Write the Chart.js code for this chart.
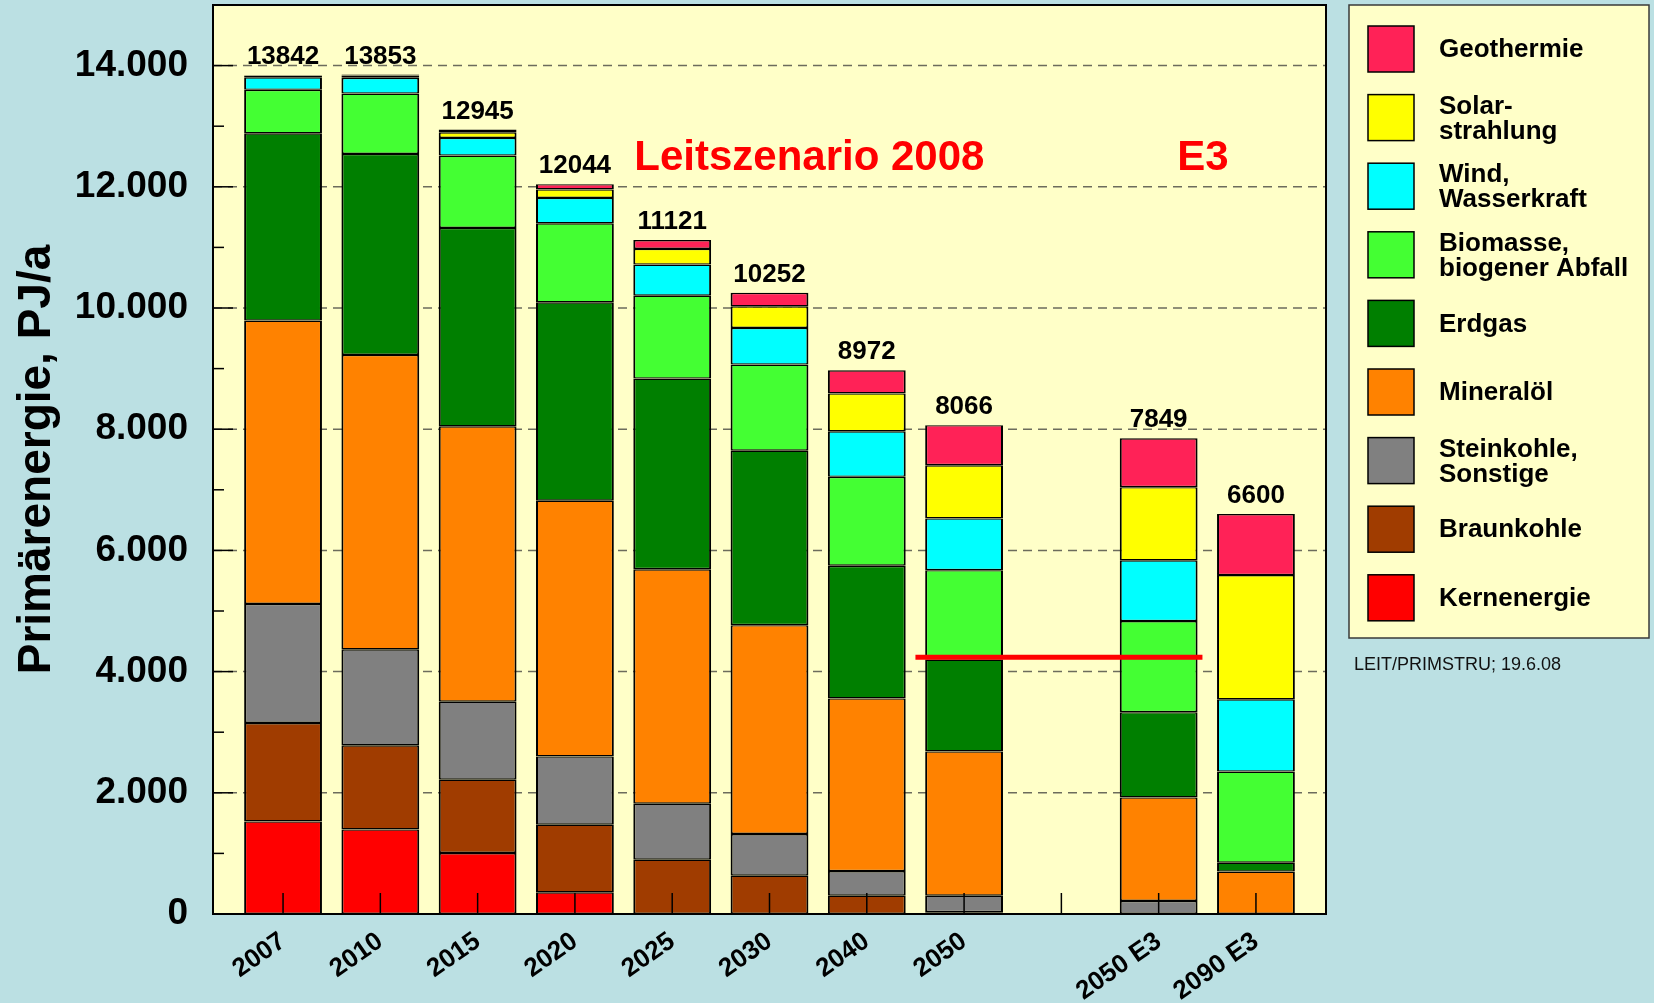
<!DOCTYPE html>
<html><head><meta charset="utf-8">
<script src="https://cdn.jsdelivr.net/npm/chart.js@4/dist/chart.umd.min.js"></script>
<style>html,body{margin:0;padding:0;background:#BBE0E3;}canvas{display:block}</style>
</head><body>
<canvas id="c" width="1654" height="1003"></canvas>
<script>
// ---- data ----
const categories = ['2007','2010','2015','2020','2025','2030','2040','2050','','2050 E3','2090 E3'];
const totals     = [13842,13853,12945,12044,11121,10252,8972,8066,null,7849,6600];
const kernenergie = [1528,1396,1007,357,0,0,0,0,null,0,0];
const braunkohle  = [1624,1387,1209,1117,896,632,302,30,null,0,0];
const steinkohle  = [1964,1584,1288,1127,924,688,406,272,null,215,0];
const mineraloel  = [4676,4859,4543,4220,3869,3446,2850,2380,null,1708,700];
const erdgas      = [3091,3317,3275,3273,3146,2880,2189,1518,null,1407,147];
const biomasse    = [717,995,1193,1304,1369,1420,1467,1474,null,1504,1503];
const wind        = [207,260,292,419,512,605,751,854,null,1002,1193];
const solar       = [25,40,93,140,259,357,626,877,null,1208,2050];
const geothermie  = [10,15,45,87,146,224,381,661,null,805,1007];
const yTickValues = [0,2000,4000,6000,8000,10000,12000,14000];
const yTickLabels = ['0','2.000','4.000','6.000','8.000','10.000','12.000','14.000'];
const markerLevel = 4235;
const markerFrom = 6.5, markerTo = 9.45;

const seriesNames = ['Kernenergie','Braunkohle','Steinkohle, Sonstige','Mineralöl','Erdgas','Biomasse, biogener Abfall','Wind, Wasserkraft','Solarstrahlung','Geothermie'];
const legendLines = [['Kernenergie'],['Braunkohle'],['Steinkohle,','Sonstige'],['Mineralöl'],['Erdgas'],['Biomasse,','biogener Abfall'],['Wind,','Wasserkraft'],['Solar-','strahlung'],['Geothermie']];
const seriesValues = [kernenergie,braunkohle,steinkohle,mineraloel,erdgas,biomasse,wind,solar,geothermie];
const seriesColors = ['#FF0000','#A03C00','#808080','#FF8200','#007F00','#44FF33','#00FFFF','#FFFF00','#FF2257'];

const FONT = "'Liberation Sans', Arial, Helvetica, sans-serif";

const barDatasets = seriesValues.map((vals, k) => ({
  type: 'bar',
  label: seriesNames[k],
  data: vals.map((v, i) => (v ? {x: i, y: v} : null)).filter(p => p),
  backgroundColor: seriesColors[k],
  borderColor: '#000',
  borderWidth: {top: 1.4, bottom: 1.4, left: 2, right: 2},
  borderSkipped: false,
  categoryPercentage: 0.8,
  barPercentage: 1.0,
  order: 1
}));

const markerDataset = {
  type: 'line',
  label: 'marker',
  data: [{x: markerFrom, y: markerLevel}, {x: markerTo, y: markerLevel}],
  borderColor: '#FF0000',
  borderWidth: 5,
  pointRadius: 0,
  stack: 'marker',
  order: 0
};

const noPad = s => { s.paddingTop = 0; s.paddingBottom = 0; s.paddingLeft = 0; s.paddingRight = 0; };

const decor = {
  id: 'decor',
  beforeDraw(chart) {
    const {ctx, chartArea: a} = chart;
    const y = chart.scales.y;
    ctx.save();
    ctx.fillStyle = '#FFFFC8';
    ctx.fillRect(a.left, a.top, a.right - a.left, a.bottom - a.top);
    ctx.strokeStyle = '#6C6C5C';
    ctx.lineWidth = 1.5;
    ctx.setLineDash([9, 6]);
    yTickValues.forEach(v => {
      if (v === 0) return;
      const py = y.getPixelForValue(v);
      ctx.beginPath(); ctx.moveTo(a.left, py); ctx.lineTo(a.right, py); ctx.stroke();
    });
    ctx.restore();
  },
  afterDatasetsDraw(chart) {
    const {ctx, chartArea: a} = chart;
    const x = chart.scales.x, y = chart.scales.y;
    ctx.save();
    // inward ticks
    ctx.strokeStyle = '#000';
    ctx.lineWidth = 1.5;
    for (let v = 1000; v <= 15000; v += 1000) {
      const py = y.getPixelForValue(v);
      const len = (v % 2000 === 0) ? 20 : 11;
      ctx.beginPath(); ctx.moveTo(a.left, py); ctx.lineTo(a.left + len, py); ctx.stroke();
    }
    categories.forEach((c, i) => {
      const px = x.getPixelForValue(i);
      ctx.beginPath(); ctx.moveTo(px, a.bottom); ctx.lineTo(px, a.bottom - 21); ctx.stroke();
    });
    // frame
    ctx.lineWidth = 2;
    ctx.strokeRect(a.left, a.top, a.right - a.left, a.bottom - a.top);
    // totals
    ctx.fillStyle = '#000';
    ctx.font = 'bold 26px ' + FONT;
    ctx.textAlign = 'center';
    ctx.textBaseline = 'alphabetic';
    totals.forEach((t, i) => {
      if (t == null) return;
      ctx.fillText(String(t), x.getPixelForValue(i), y.getPixelForValue(t) - 11);
    });
    // scenario captions
    ctx.fillStyle = '#FF0000';
    ctx.font = 'bold 42px ' + FONT;
    ctx.textAlign = 'left';
    ctx.fillText('Leitszenario 2008', x.getPixelForValue(3.61), y.getPixelForValue(12284));
    ctx.fillText('E3', x.getPixelForValue(9.19), y.getPixelForValue(12284));
    // legend
    const lx = 1349, ly = 5, lw = 300, lh = 633;
    ctx.fillStyle = '#FFFFC8';
    ctx.fillRect(lx, ly, lw, lh);
    ctx.strokeStyle = '#3A3A3A';
    ctx.lineWidth = 1.5;
    ctx.strokeRect(lx, ly, lw, lh);
    ctx.font = 'bold 26px ' + FONT;
    ctx.textBaseline = 'middle';
    for (let r = 0; r < 9; r++) {
      const k = 8 - r;
      const cy = 49 + r * 68.6;
      ctx.fillStyle = seriesColors[k];
      ctx.fillRect(1368, cy - 23, 46, 46);
      ctx.strokeStyle = '#000';
      ctx.lineWidth = 1.5;
      ctx.strokeRect(1368, cy - 23, 46, 46);
      ctx.fillStyle = '#000';
      const lines = legendLines[k];
      if (lines.length === 1) {
        ctx.fillText(lines[0], 1439, cy + 1);
      } else {
        ctx.fillText(lines[0], 1439, cy - 11);
        ctx.fillText(lines[1], 1439, cy + 14);
      }
    }
    // footnote
    ctx.font = '18px ' + FONT;
    ctx.textBaseline = 'alphabetic';
    ctx.fillStyle = '#111';
    ctx.fillText('LEIT/PRIMSTRU; 19.6.08', 1354, 670);
    ctx.restore();
  }
};

new Chart(document.getElementById('c'), {
  data: {datasets: [...barDatasets, markerDataset]},
  options: {
    responsive: false,
    devicePixelRatio: 1,
    animation: false,
    layout: {padding: {left: 0, right: 328, top: 5, bottom: 0}},
    plugins: {legend: {display: false}, tooltip: {enabled: false}},
    scales: {
      x: {
        type: 'linear', stacked: true, min: -0.72, max: 10.72, offset: false,
        afterBuildTicks: s => { s.ticks = categories.map((c, i) => ({value: i})); },
        afterFit: s => { s.height = 89; noPad(s); },
        grid: {display: false, drawTicks: false},
        border: {display: false},
        ticks: {
          autoSkip: false, minRotation: 35, maxRotation: 35, padding: 12, color: '#000',
          font: {family: FONT, size: 26, weight: 'bold'},
          callback: v => (categories[v] !== undefined ? categories[v] : '')
        }
      },
      y: {
        stacked: true, min: 0, max: 15000,
        afterBuildTicks: s => { s.ticks = yTickValues.map(v => ({value: v})); },
        afterFit: s => { s.width = 213; noPad(s); },
        grid: {display: false, drawTicks: false},
        border: {display: false},
        ticks: {
          padding: 25, color: '#000',
          font: {family: FONT, size: 37, weight: 'bold'},
          callback: v => yTickLabels[yTickValues.indexOf(v)]
        },
        title: {
          display: true, text: 'Primärenergie, PJ/a', color: '#000',
          font: {family: FONT, size: 46, weight: 'bold'},
          padding: {top: 10, bottom: 0}
        }
      }
    }
  },
  plugins: [decor]
});
</script>
</body></html>
